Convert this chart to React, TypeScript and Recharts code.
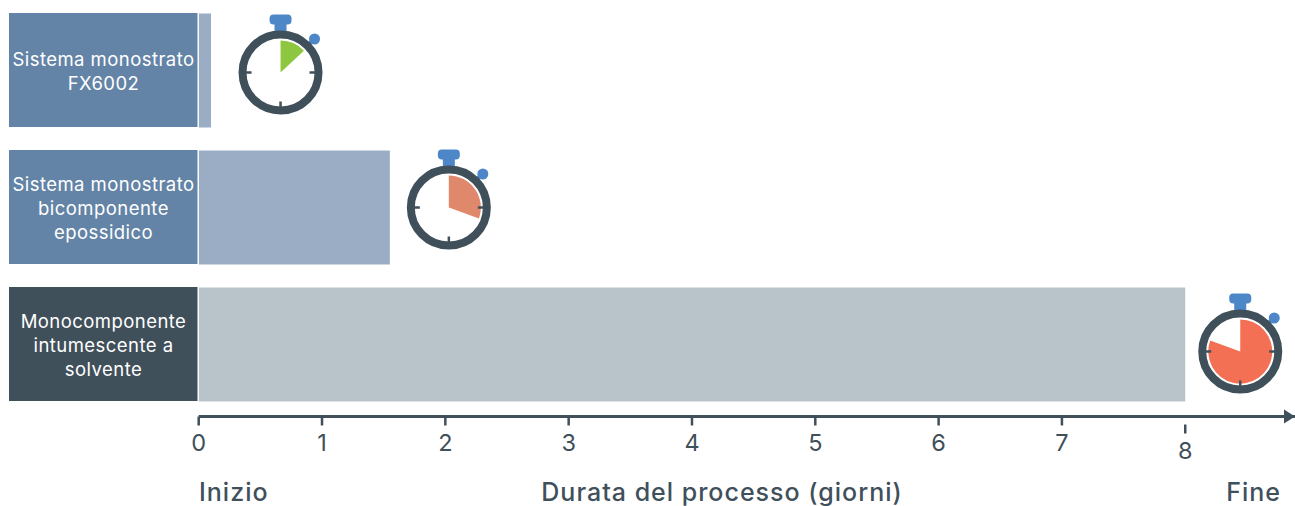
import React from 'react';
import { BarChart, Bar, XAxis, YAxis } from 'recharts';

// durations in days
const categories = ['Sistema monostrato FX6002', 'Sistema monostrato bicomponente epossidico', 'Monocomponente intumescente a solvente'];
const categoryLines = [
  ['Sistema monostrato', 'FX6002'],
  ['Sistema monostrato', 'bicomponente', 'epossidico'],
  ['Monocomponente', 'intumescente a', 'solvente'],
];
const durations = [0.1, 1.55, 8];
const tickValues = [0, 1, 2, 3, 4, 5, 6, 7, 8];
const timerSweep = [47, 110, 290];

const boxColors = ['#6384A6', '#6384A6', '#3F505B'];
const barColors = ['#9BADC4', '#9BADC4', '#B9C4CA'];
const wedgeColors = ['#8DC63F', '#E0886C', '#F47055'];
const iconOffsets = [[69.5, 2], [59, 0], [55, 7]];

const DARK = '#3F505B';
const BLUE = '#4D87C7';
const FONT = 'Inter, sans-serif';
const AXIS_Y = 416.5;

const data = categories.map((name, i) => ({ name, days: durations[i] }));

const wedgePath = (cx: number, cy: number, r: number, deg: number) => {
  const a = (deg * Math.PI) / 180;
  const ex = cx + r * Math.sin(a);
  const ey = cy - r * Math.cos(a);
  return `M${cx},${cy} L${cx},${cy - r} A${r},${r} 0 ${deg > 180 ? 1 : 0} 1 ${ex},${ey} Z`;
};

const Stopwatch = ({ cx, cy, sweep, color }: { cx: number; cy: number; sweep: number; color: string }) => (
  <g>
    <rect x={cx - 6} y={cy - 50} width={12} height={10} fill={BLUE} />
    <rect x={cx - 11} y={cy - 58} width={22} height={10} rx={4} fill={BLUE} />
    <line x1={cx + 28} y1={cy - 28} x2={cx + 32} y2={cy - 32} stroke={BLUE} strokeWidth={4} />
    <circle cx={cx + 34} cy={cy - 33.5} r={5.5} fill={BLUE} />
    <path d={wedgePath(cx, cy, 32, sweep)} fill={color} />
    <circle cx={cx} cy={cy} r={38} fill="none" stroke={DARK} strokeWidth={8} />
    <line x1={cx - 36} y1={cy} x2={cx - 29} y2={cy} stroke={DARK} strokeWidth={2.5} />
    <line x1={cx + 36} y1={cy} x2={cx + 29} y2={cy} stroke={DARK} strokeWidth={2.5} />
    <line x1={cx} y1={cy + 36} x2={cx} y2={cy + 29} stroke={DARK} strokeWidth={2.5} />
  </g>
);

const DurationBar = (props: any) => {
  const { x, y, width, height, index } = props;
  const [dx, dy] = iconOffsets[index];
  return (
    <g>
      <rect x={x} y={y} width={width} height={height} fill={barColors[index]} />
      <Stopwatch cx={x + width + dx} cy={y + height / 2 + dy} sweep={timerSweep[index]} color={wedgeColors[index]} />
    </g>
  );
};

const CategoryTick = (props: any) => {
  const { y, index } = props;
  const lines = categoryLines[index];
  const top = y - 57;
  return (
    <g>
      <rect x={9} y={top} width={188.5} height={114} fill={boxColors[index]} />
      {lines.map((line, i) => (
        <text
          key={line}
          x={103.5}
          y={y + 1 + (i - (lines.length - 1) / 2) * 24}
          textAnchor="middle"
          dominantBaseline="central"
          fill="#fff"
          fontFamily={FONT}
          fontSize={18.5}
          letterSpacing={0.45}
        >
          {line}
        </text>
      ))}
    </g>
  );
};

const DayTick = (props: any) => {
  const { x, payload } = props;
  const drop = payload.value === 8 ? 8 : 0;
  return (
    <g>
      <line x1={x} y1={AXIS_Y + drop} x2={x} y2={AXIS_Y + 9 + drop} stroke={DARK} strokeWidth={2.5} />
      <text x={x} y={451 + drop} textAnchor="middle" fill={DARK} fontFamily={FONT} fontSize={23.5}>
        {payload.value}
      </text>
    </g>
  );
};

export default function App() {
  return (
    <div style={{ position: 'absolute', left: 0, top: 0, width: 1295, height: 506, background: '#fff', overflow: 'hidden' }}>
      <BarChart
        width={1295}
        height={506}
        layout="vertical"
        data={data}
        margin={{ top: 1.5, right: 0, bottom: 0, left: 0 }}
        barSize={114}
      >
        <XAxis
          type="number"
          dataKey="days"
          domain={[0, 8.89]}
          ticks={tickValues}
          tick={<DayTick />}
          tickLine={false}
          axisLine={{ stroke: DARK, strokeWidth: 3 }}
          height={89.5}
          interval={0}
          allowDataOverflow
        />
        <YAxis
          type="category"
          dataKey="name"
          width={198.7}
          axisLine={false}
          tickLine={false}
          tick={<CategoryTick />}
          interval={0}
          padding={{ top: 0, bottom: 4 }}
        />
        <Bar dataKey="days" isAnimationActive={false} shape={<DurationBar />} />
        <polygon points={`1284,${AXIS_Y - 7} 1295,${AXIS_Y} 1284,${AXIS_Y + 7}`} fill={DARK} />
        <g fontFamily={FONT} fontSize={25} fill={DARK} fontWeight={500} letterSpacing={1}>
          <text x={199} y={501}>Inizio</text>
          <text x={722} y={501} textAnchor="middle">Durata del processo (giorni)</text>
          <text x={1281} y={501} textAnchor="end">Fine</text>
        </g>
      </BarChart>
    </div>
  );
}
